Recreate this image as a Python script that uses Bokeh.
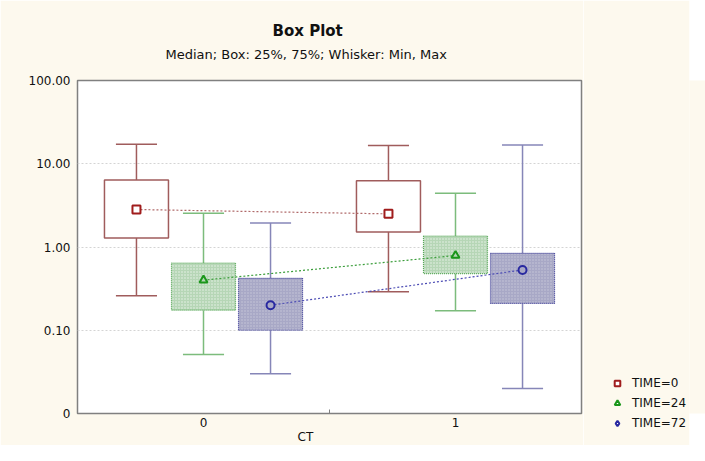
from bokeh.plotting import figure
from bokeh.layouts import row
from bokeh.models import Range1d, FixedTicker, CustomJSTickFormatter, Title, Legend, LegendItem
from bokeh.embed import file_html
from bokeh.resources import INLINE

# ---- data ----
ct_levels = [0, 1]
ct_labels = ["0", "1"]
series_names = ["TIME=0", "TIME=24", "TIME=72"]

time0_min = [0.26, 0.29]
time0_q1 = [1.28, 1.51]
time0_median = [2.82, 2.50]
time0_q3 = [6.36, 6.26]
time0_max = [17.1, 16.6]

time24_min = [0.051, 0.172]
time24_q1 = [0.174, 0.48]
time24_median = [0.40, 0.79]
time24_q3 = [0.64, 1.35]
time24_max = [2.55, 4.41]

time72_min = [0.030, 0.020]
time72_q1 = [0.10, 0.21]
time72_median = [0.20, 0.53]
time72_q3 = [0.42, 0.84]
time72_max = [1.94, 16.8]

y_tick_values = [0.01, 0.1, 1, 10, 100]
y_tick_labels = ["0", "0.10", "1.00", "10.00", "100.00"]

# ---- styling ----
FONT = "DejaVu Sans"
CREAM = "#fdf9ee"
TXT = "#111111"
offsets = [-0.266, 0.0, 0.266]
box_w = 0.254
cap_w = 0.163

styles = [
    dict(line="#a05c5c", fill="white", hatch=None, marker="square", mcolor="#a01c1c",
         mfill="white", conn="#b06a6a", box_line="#a05c5c"),
    dict(line="#7cbc7c", fill="#b6d6b6", hatch="white", marker="triangle", mcolor="#1a961a",
         mfill="#b6d6b6", conn="#3c9e3c", box_line="#58a858"),
    dict(line="#8686b8", fill="#a8a8c6", hatch="#d6d6e4", marker="circle", mcolor="#2828a0",
         mfill="#a8a8c6", conn="#4c4cb4", box_line="#3c3c96"),
]
legend_markers = ["square", "triangle", "diamond"]

stats = [
    (time0_min, time0_q1, time0_median, time0_q3, time0_max),
    (time24_min, time24_q1, time24_median, time24_q3, time24_max),
    (time72_min, time72_q1, time72_median, time72_q3, time72_max),
]

p = figure(width=583, height=445, y_axis_type="log",
           x_range=Range1d(-0.5, 1.5), y_range=Range1d(0.01, 100),
           output_backend="svg", toolbar_location=None,
           min_border_left=77, min_border_right=2,
           min_border_top=80, min_border_bottom=28)

p.background_fill_color = "white"
p.border_fill_color = CREAM
p.outline_line_color = "#808080"
p.outline_line_width = 1.5

# titles (first added sits nearest the frame)
p.add_layout(Title(text=" ", text_font=FONT, text_font_size="12px", standoff=2), "above")
p.add_layout(Title(text="Median; Box: 25%, 75%; Whisker: Min, Max", align="left", offset=88,
                   text_font=FONT, text_font_size="13px", text_font_style="normal",
                   text_color=TXT, standoff=2), "above")
p.add_layout(Title(text="Box Plot", align="left", offset=195,
                   text_font=FONT, text_font_size="15px", text_font_style="bold",
                   text_color=TXT, standoff=8), "above")
p.add_layout(Title(text="CT", align="left", offset=220, vertical_align="top",
                   text_font=FONT, text_font_size="12px", text_font_style="normal",
                   text_color=TXT, standoff=0), "below")

# axes
p.yaxis.ticker = FixedTicker(ticks=y_tick_values, minor_ticks=[])
p.yaxis.formatter = CustomJSTickFormatter(args=dict(vals=y_tick_values, labs=y_tick_labels), code="""
    for (let i = 0; i < vals.length; i++) {
        if (Math.abs(Math.log10(vals[i]) - Math.log10(tick)) < 1e-6) return labs[i];
    }
    return '';
""")
p.xaxis.ticker = FixedTicker(ticks=ct_levels, minor_ticks=[0.5])
p.xaxis.major_label_overrides = {lv: lb for lv, lb in zip(ct_levels, ct_labels)}
for ax in (p.xaxis, p.yaxis):
    ax.axis_line_color = None
    ax.major_tick_out = 0
    ax.major_tick_in = 0
    ax.minor_tick_out = 0
    ax.major_label_text_font = FONT
    ax.major_label_text_font_size = "12px"
    ax.major_label_text_color = TXT
p.xaxis.minor_tick_in = 4
p.xaxis.minor_tick_line_color = "#808080"
p.yaxis.minor_tick_in = 0
p.yaxis.major_label_standoff = 7
p.xaxis.major_label_standoff = 4

p.xgrid.grid_line_color = None
p.ygrid.grid_line_color = "#d4d4d4"
p.ygrid.grid_line_dash = "2 2"

for (mn, q1, md, q3, mx), st, off in zip(stats, styles, offsets):
    xs = [c + off for c in ct_levels]
    left = [x - box_w / 2 for x in xs]
    right = [x + box_w / 2 for x in xs]
    cl = [x - cap_w / 2 for x in xs]
    cr = [x + cap_w / 2 for x in xs]
    p.segment(x0=xs, y0=mn, x1=xs, y1=q1, line_color=st["line"], line_width=1.5)
    p.segment(x0=xs, y0=q3, x1=xs, y1=mx, line_color=st["line"], line_width=1.5)
    p.segment(x0=cl, y0=mn, x1=cr, y1=mn, line_color=st["line"], line_width=1.5)
    p.segment(x0=cl, y0=mx, x1=cr, y1=mx, line_color=st["line"], line_width=1.5)
    if st["hatch"]:
        p.quad(left=left, right=right, bottom=q1, top=q3, fill_color=st["fill"],
               hatch_pattern="dot", hatch_color=st["hatch"], hatch_scale=3, hatch_alpha=0.7,
               line_color=st["box_line"], line_width=1.2, line_dash="1 1")
    else:
        p.quad(left=left, right=right, bottom=q1, top=q3, fill_color=st["fill"],
               line_color=st["box_line"], line_width=1.5)
for (mn, q1, md, q3, mx), st, off in zip(stats, styles, offsets):
    xs = [c + off for c in ct_levels]
    p.line(x=xs, y=md, line_color=st["conn"], line_width=1.2, line_dash="2 2")
    p.scatter(x=xs, y=md, marker=st["marker"], size=8, line_color=st["mcolor"],
              fill_color=st["mfill"], line_width=2)

# legend panel: a narrow figure to the right; its legend sits in a side panel
pl = figure(width=106, height=445, x_range=Range1d(10, 11), y_range=Range1d(10, 11),
            output_backend="svg", toolbar_location=None,
            x_axis_location=None, y_axis_location=None,
            min_border_left=0, min_border_right=0, min_border_top=0, min_border_bottom=0)
pl.background_fill_color = CREAM
pl.border_fill_color = CREAM
pl.outline_line_color = None
pl.xgrid.visible = False
pl.ygrid.visible = False

legend_items = []
for (mn, q1, md, q3, mx), st, name, lm in zip(stats, styles, series_names, legend_markers):
    # legend swatches: same median values, drawn outside this panel's visible range
    r = pl.scatter(x=ct_levels, y=md, marker=lm, size=7, line_color=st["mcolor"],
                   fill_color="white", line_width=2)
    legend_items.append(LegendItem(label=name, renderers=[r]))

legend = Legend(items=legend_items, location=(23, -21),
                margin=0, padding=4, spacing=6, glyph_width=14, glyph_height=14,
                label_standoff=8, label_text_font=FONT, label_text_font_size="12px",
                label_text_color=TXT, background_fill_alpha=0, border_line_alpha=0)
pl.add_layout(legend, "left")

layout = row(p, pl)
html = file_html(layout, INLINE)
open("out.html", "w").write(html)
